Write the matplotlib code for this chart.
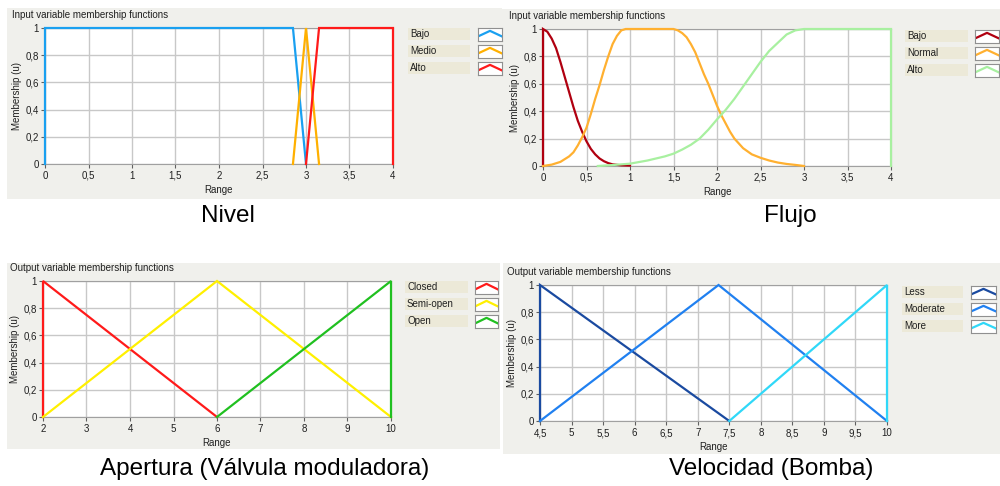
import numpy as np
import matplotlib
matplotlib.use("Agg")
import matplotlib.pyplot as plt
from matplotlib.patches import Rectangle

W, H = 1000, 486

# Nivel (entrada)
nivel_bajo_x = [0, 0, 2.85, 3]
nivel_bajo_y = [0, 1, 1, 0]
nivel_medio_x = [2.85, 3, 3.15]
nivel_medio_y = [0, 1, 0]
nivel_alto_x = [3, 3.15, 4, 4]
nivel_alto_y = [0, 1, 1, 0]

# Flujo (entrada), valores
flujo_bajo_x = [0, 0, 0.05, 0.1, 0.15, 0.2, 0.25, 0.3, 0.35, 0.4, 0.45, 0.5, 0.55, 0.6, 0.65,
                0.7, 0.75, 0.8, 0.9, 1.0]
flujo_bajo_y = [0, 1, 0.98, 0.93, 0.86, 0.76, 0.65, 0.54, 0.43, 0.33, 0.25, 0.18, 0.125, 0.085, 0.055,
                0.035, 0.021, 0.012, 0.005, 0.003]
flujo_normal_x = [0, 0.1, 0.2, 0.3, 0.35, 0.4, 0.45, 0.5, 0.55, 0.6, 0.65, 0.7, 0.75, 0.8, 0.85,
                  0.9, 0.95, 1.5, 1.55, 1.6, 1.65, 1.7, 1.75, 1.8, 1.85, 1.9, 1.95, 2.0, 2.05,
                  2.1, 2.15, 2.2, 2.3, 2.4, 2.5, 2.6, 2.7, 2.8, 2.9, 3.0]
flujo_normal_y = [0, 0.01, 0.03, 0.07, 0.1, 0.15, 0.21, 0.28, 0.38, 0.49, 0.59, 0.7, 0.8, 0.89, 0.95,
                  0.99, 1.0, 1.0, 0.99, 0.97, 0.94, 0.89, 0.83, 0.75, 0.67, 0.6, 0.52, 0.44, 0.37,
                  0.31, 0.25, 0.2, 0.13, 0.085, 0.06, 0.04, 0.025, 0.015, 0.008, 0]
flujo_alto_x = [0.63, 0.8, 1.0, 1.2, 1.4, 1.5, 1.6, 1.7, 1.8, 1.9, 2.0, 2.1, 2.2, 2.3, 2.4, 2.5,
                2.6, 2.7, 2.8, 2.9, 3.0, 4.0, 4.0]
flujo_alto_y = [0, 0.007, 0.017, 0.04, 0.07, 0.09, 0.12, 0.155, 0.2, 0.265, 0.34, 0.41, 0.49, 0.58,
                0.67, 0.76, 0.84, 0.9, 0.96, 0.99, 1.0, 1.0, 0]

# Apertura (salida)
ap_closed_x = [2, 2, 6]
ap_closed_y = [0, 1, 0]
ap_semi_x = [2, 6, 10]
ap_semi_y = [0, 1, 0]
ap_open_x = [6, 10, 10]
ap_open_y = [0, 1, 0]

# Velocidad (salida)
vel_less_x = [4.5, 4.5, 7.5]
vel_less_y = [0, 1, 0]
vel_mod_x = [4.5, 7.33, 10]
vel_mod_y = [0, 1, 0]
vel_more_x = [7.5, 10, 10]
vel_more_y = [0, 1, 0]

y_ticks = [0, 0.2, 0.4, 0.6, 0.8, 1]
x_ticks_4 = [0, 0.5, 1, 1.5, 2, 2.5, 3, 3.5, 4]
x_ticks_ap = [2, 3, 4, 5, 6, 7, 8, 9, 10]
x_ticks_vel = [4.5, 5, 5.5, 6, 6.5, 7, 7.5, 8, 8.5, 9, 9.5, 10]

BG = "#F0F0EC"
LEG_BG = "#ECE9D8"
GRID = "#C8C8C8"
SMALL = 7
plt.rcParams["font.family"] = ["Liberation Sans", "DejaVu Sans"]


def rect(x0, y0, x1, y1):
    return [x0 / W, 1 - y1 / H, (x1 - x0) / W, (y1 - y0) / H]


def coma(v):
    return f"{v:g}".replace(".", ",")


fig = plt.figure(figsize=(10, 4.86), dpi=100)
fig.patch.set_facecolor("white")


def panel(bg, area, title, title_xy, xticks, series, legend_x, legend_y):
    fig.patches.append(Rectangle((bg[0] / W, 1 - bg[3] / H), (bg[2] - bg[0]) / W, (bg[3] - bg[1]) / H,
                                 transform=fig.transFigure, facecolor=BG, edgecolor="none", zorder=-2))
    fig.text(title_xy[0] / W, 1 - title_xy[1] / H, title, fontsize=SMALL, va="center", ha="left",
             color="#202020")
    ax = fig.add_axes(rect(*area))
    ax.set_facecolor("white")
    for xs, ys, c, lab in series:
        ax.plot(xs, ys, color=c, lw=1.6, solid_joinstyle="miter", clip_on=False, zorder=3)
    ax.set_xlim(xticks[0], xticks[-1])
    ax.set_ylim(0, 1)
    ax.set_xticks(xticks)
    ax.set_xticklabels([coma(v) for v in xticks], va="baseline")
    ax.set_yticks(y_ticks)
    ax.set_yticklabels([coma(v) for v in y_ticks])
    ax.grid(True, color=GRID, lw=1)
    ax.set_axisbelow(True)
    ax.tick_params(labelsize=SMALL, length=3, width=0.8, color="#606060", labelcolor="#202020")
    ax.tick_params(axis="x", pad=7.8)
    ax.tick_params(axis="y", pad=1.5)
    for s in ax.spines.values():
        s.set_color("#A0A0A0")
        s.set_linewidth(0.8)
    ax.set_xlabel("Range", fontsize=SMALL, labelpad=3, color="#202020")
    ax.set_ylabel("Membership (u)", fontsize=SMALL, labelpad=2, color="#202020")
    # leyenda estilo LabVIEW
    lx0, lx1, sx0, sx1 = legend_x
    for i, (xs, ys, c, lab) in enumerate(series):
        yc = legend_y + i * 17
        fig.patches.append(Rectangle((lx0 / W, 1 - (yc + 6) / H), (lx1 - lx0) / W, 12 / H,
                                     transform=fig.transFigure, facecolor=LEG_BG, edgecolor="none",
                                     zorder=-1))
        fig.text((lx0 + 2) / W, 1 - yc / H, lab, fontsize=SMALL, va="center", ha="left", color="#202020")
        sw = fig.add_axes(rect(sx0, yc - 6, sx1, yc + 7))
        sw.set_facecolor("white")
        sw.plot([0, 0.5, 1], [0.35, 0.78, 0.35], color=c, lw=1.6)
        sw.set_xlim(0, 1)
        sw.set_ylim(0, 1)
        sw.set_xticks([])
        sw.set_yticks([])
        for s in sw.spines.values():
            s.set_color("#909090")
            s.set_linewidth(0.8)
    return ax


panel((7, 8, 502, 199), (45, 28, 393, 164), "Input variable membership functions", (12, 15), x_ticks_4,
      [(nivel_bajo_x, nivel_bajo_y, "#1AA0F0", "Bajo"),
       (nivel_medio_x, nivel_medio_y, "#FFB000", "Medio"),
       (nivel_alto_x, nivel_alto_y, "#FF1A1A", "Alto")],
      (408, 470, 478, 502), 34)

panel((502, 9, 1000, 199), (543, 29, 891, 166), "Input variable membership functions", (509, 16), x_ticks_4,
      [(flujo_bajo_x, flujo_bajo_y, "#B00010", "Bajo"),
       (flujo_normal_x, flujo_normal_y, "#FFB030", "Normal"),
       (flujo_alto_x, flujo_alto_y, "#A8F0A0", "Alto")],
      (905, 968, 975, 999), 36)

panel((7, 263, 500, 449), (43, 281, 391, 417), "Output variable membership functions", (10, 268), x_ticks_ap,
      [(ap_closed_x, ap_closed_y, "#FF1A1A", "Closed"),
       (ap_semi_x, ap_semi_y, "#FFF000", "Semi-open"),
       (ap_open_x, ap_open_y, "#20C020", "Open")],
      (405, 468, 475, 498), 287)

panel((503, 263, 1000, 454), (540, 285, 887, 421), "Output variable membership functions", (507, 272), x_ticks_vel,
      [(vel_less_x, vel_less_y, "#1A4AA0", "Less"),
       (vel_mod_x, vel_mod_y, "#2080F0", "Moderate"),
       (vel_more_x, vel_more_y, "#30D8F8", "More")],
      (902, 963, 971, 996), 292)

cap = dict(fontsize=17.5, family="Liberation Sans", ha="center", va="center")
fig.text(228 / W, 1 - 216 / H, "Nivel", **cap)
fig.text(790 / W, 1 - 216 / H, "Flujo", **cap)
fig.text(265 / W, 1 - 469 / H, "Apertura (Válvula moduladora)", **cap)
fig.text(771 / W, 1 - 469 / H, "Velocidad (Bomba)", **cap)

fig.savefig("out.png", dpi=100, facecolor=fig.get_facecolor())
